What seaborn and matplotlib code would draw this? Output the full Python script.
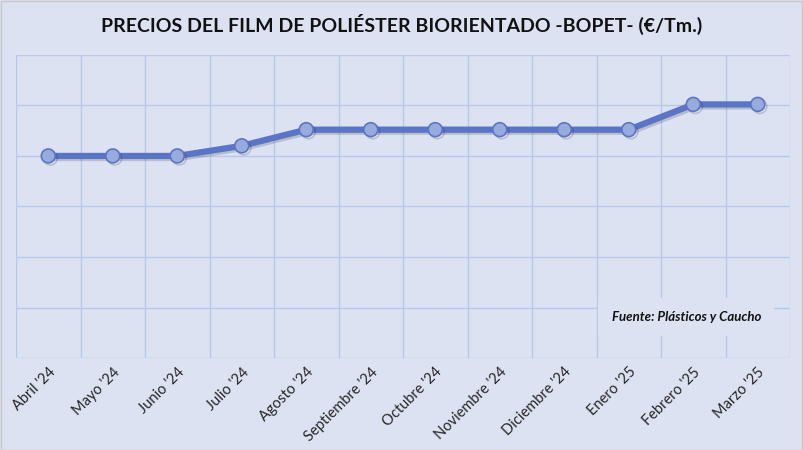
import numpy as np
import pandas as pd
import seaborn as sns
import matplotlib.pyplot as plt
import matplotlib.patheffects as pe
from matplotlib.ticker import FixedLocator

meses = ["Abril '24", "Mayo '24", "Junio '24", "Julio '24", "Agosto '24",
         "Septiembre '24", "Octubre '24", "Noviembre '24", "Diciembre '24",
         "Enero '25", "Febrero '25", "Marzo '25"]
precios = [4.0, 4.0, 4.0, 4.2, 4.52, 4.52, 4.52, 4.52, 4.52, 4.52, 5.02, 5.02]

BG = "#dce2f1"
LINEA = "#5b75c6"
MARCA = "#98abdd"
GRID = "#b7c8ea"

sns.set_theme(style="white")
plt.rcParams['font.family'] = ['Lato', 'DejaVu Sans']

df = pd.DataFrame({"mes": meses, "precio": precios, "pos": np.arange(len(meses))})

fig = plt.figure(figsize=(8.04, 4.5), dpi=100)
fig.patch.set_facecolor(BG)
ax = fig.add_axes([0.0199, 0.2044, 0.9627, 0.6736])
ax.set_facecolor(BG)

sns.lineplot(data=df, x="pos", y="precio", ax=ax, color=LINEA, linewidth=4.5,
             marker="o", markersize=10, markerfacecolor=MARCA,
             markeredgecolor=LINEA, markeredgewidth=1.2, zorder=3,
             path_effects=[pe.SimpleLineShadow(offset=(1.5, -1.5), alpha=0.18), pe.Normal()])

ax.set_xlim(-0.5, 11.5)
ax.set_ylim(0, 6)
ax.set_xticks(df["pos"])
ax.set_xticklabels(meses, rotation=45, ha="right", rotation_mode="anchor", fontsize=10.5)
ax.xaxis.set_minor_locator(FixedLocator(np.arange(-0.5, 12, 1)))
ax.set_yticks(np.arange(0, 7, 1))
ax.set_yticklabels([])
ax.tick_params(axis="x", which="both", length=0, pad=5)
ax.tick_params(axis="y", length=0)
ax.grid(False)
ax.grid(True, which="minor", axis="x", color=GRID, linewidth=1)
ax.grid(True, which="major", axis="y", color=GRID, linewidth=1)
for s in ax.spines.values():
    s.set_visible(False)
ax.set_xlabel("")
ax.set_ylabel("")

ax.text(0.866, 0.135, "Fuente: Plásticos y Caucho", transform=ax.transAxes,
        ha="center", va="center", fontsize=9.5, fontweight="bold", style="italic",
        color="#111111", zorder=4,
        bbox=dict(boxstyle="square,pad=1.0", facecolor=BG, edgecolor="none"))

fig.text(0.5, 0.945, "PRECIOS DEL FILM DE POLIÉSTER BIORIENTADO -BOPET- (€/Tm.)",
         ha="center", va="center", fontsize=14, fontweight="bold", color="#111111")

fig.patches.append(plt.Rectangle((0.001, 0.001), 0.997, 0.997, transform=fig.transFigure,
                                 fill=False, edgecolor="#c8c8c8", linewidth=1))

fig.savefig("out.png", dpi=100, facecolor=BG)
